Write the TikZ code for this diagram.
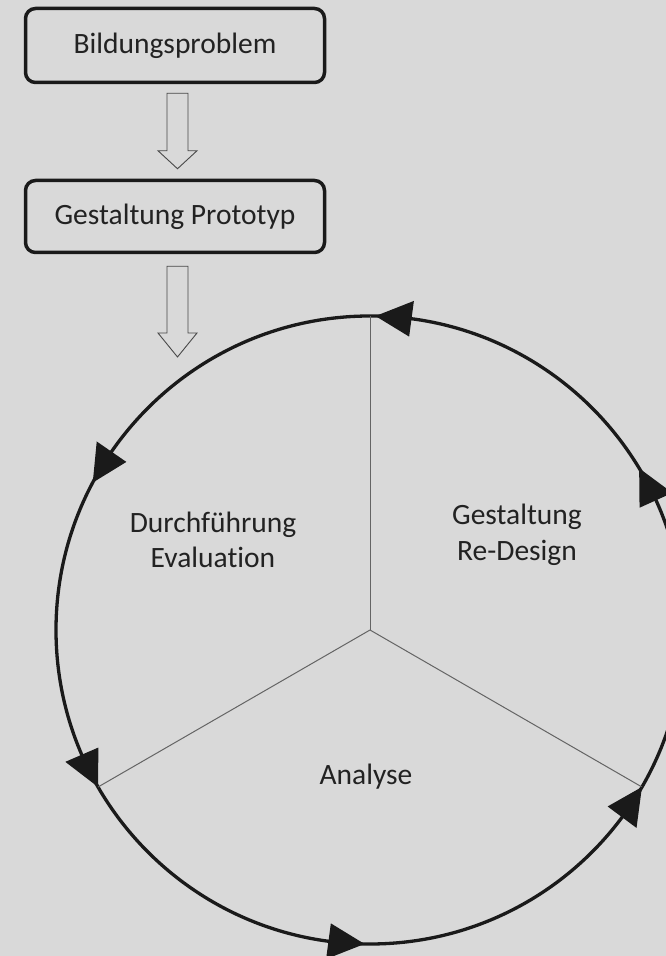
\documentclass[tikz,border=0pt]{standalone}
\usepackage{fontspec}
\setmainfont[Ligatures={NoCommon,NoContextual}]{Carlito}
\usetikzlibrary{calc}
\definecolor{bg}{RGB}{217,217,217}
\definecolor{ink}{RGB}{26,26,26}
\definecolor{txt}{RGB}{34,34,34}
\definecolor{spoke}{RGB}{100,100,100}
\begin{document}
\begin{tikzpicture}[x=1pt,y=1pt,
  stepbox/.style={draw=ink,line width=3.5pt,rounded corners=10pt,minimum width=299pt,minimum height=74pt,inner sep=0pt,text=txt},
  lbl/.style={text=txt,align=center,inner sep=0pt},
  hollow/.style={draw=ink!80,line width=0.9pt,fill=bg,line join=miter},
  ring/.style={draw=ink,line width=3.3pt},
  spokeline/.style={draw=spoke,line width=1pt},
  tri/.style={fill=ink}]
\fill[bg] (0,0) rectangle (666,956);
\useasboundingbox (0,0) rectangle (666,956);
\clip (0,0) rectangle (666,956);
\fontsize{29.5pt}{35.5pt}\selectfont
% boxes
\node[stepbox] (b1) at (175,910.5) {Bildungsproblem};
\node[stepbox,minimum height=72pt] (b2) at (175,739.5) {Gestaltung Prototyp};
% circle
\coordinate (C) at (370,326);
\draw[ring] (C) circle (314);
\coordinate (s1) at ($(C)+(90:314)$);
\coordinate (s2) at ($(C)+(210:314)$);
\coordinate (s3) at ($(C)+(330:314)$);
\draw[spokeline] (C) -- (s1);
\draw[spokeline] (C) -- (s2);
\draw[spokeline] (C) -- (s3);
% arrowheads on circle (counterclockwise)
\foreach \t in {89,152,210,269,330,31}{
  \fill[tri] ($(C)+(\t:314)$) -- ($(C)+(\t-6.6:296)$) -- ($(C)+(\t-6.6:332)$) -- cycle;
}
% hollow arrows
\coordinate (a1s) at ($(b1.south)+(2.5,-9)$);
\coordinate (a1t) at ($(b2.north)+(2.5,10)$);
\draw[hollow] ($(a1s)+(-10.5,0)$) -- ($(a1t)+(-10.5,18)$) -- ($(a1t)+(-19.5,18)$) -- (a1t) -- ($(a1t)+(19.5,18)$) -- ($(a1t)+(10.5,18)$) -- ($(a1s)+(10.5,0)$) -- cycle;
\coordinate (a2s) at ($(b2.south)+(2.5,-12)$);
\coordinate (a2t) at (177.5,599);
\draw[hollow] ($(a2s)+(-10.5,0)$) -- ($(a2t)+(-10.5,24)$) -- ($(a2t)+(-19.5,24)$) -- (a2t) -- ($(a2t)+(19.5,24)$) -- ($(a2t)+(10.5,24)$) -- ($(a2s)+(10.5,0)$) -- cycle;
% labels
\node[lbl] (l1) at (213,416) {Durchführung\\Evaluat\kern0pt ion};
\node[lbl] (l2) at (517,421) {Gestaltung\\Re-Design};
\node[lbl] (l3) at (366,179) {Analyse};
\end{tikzpicture}
\end{document}
